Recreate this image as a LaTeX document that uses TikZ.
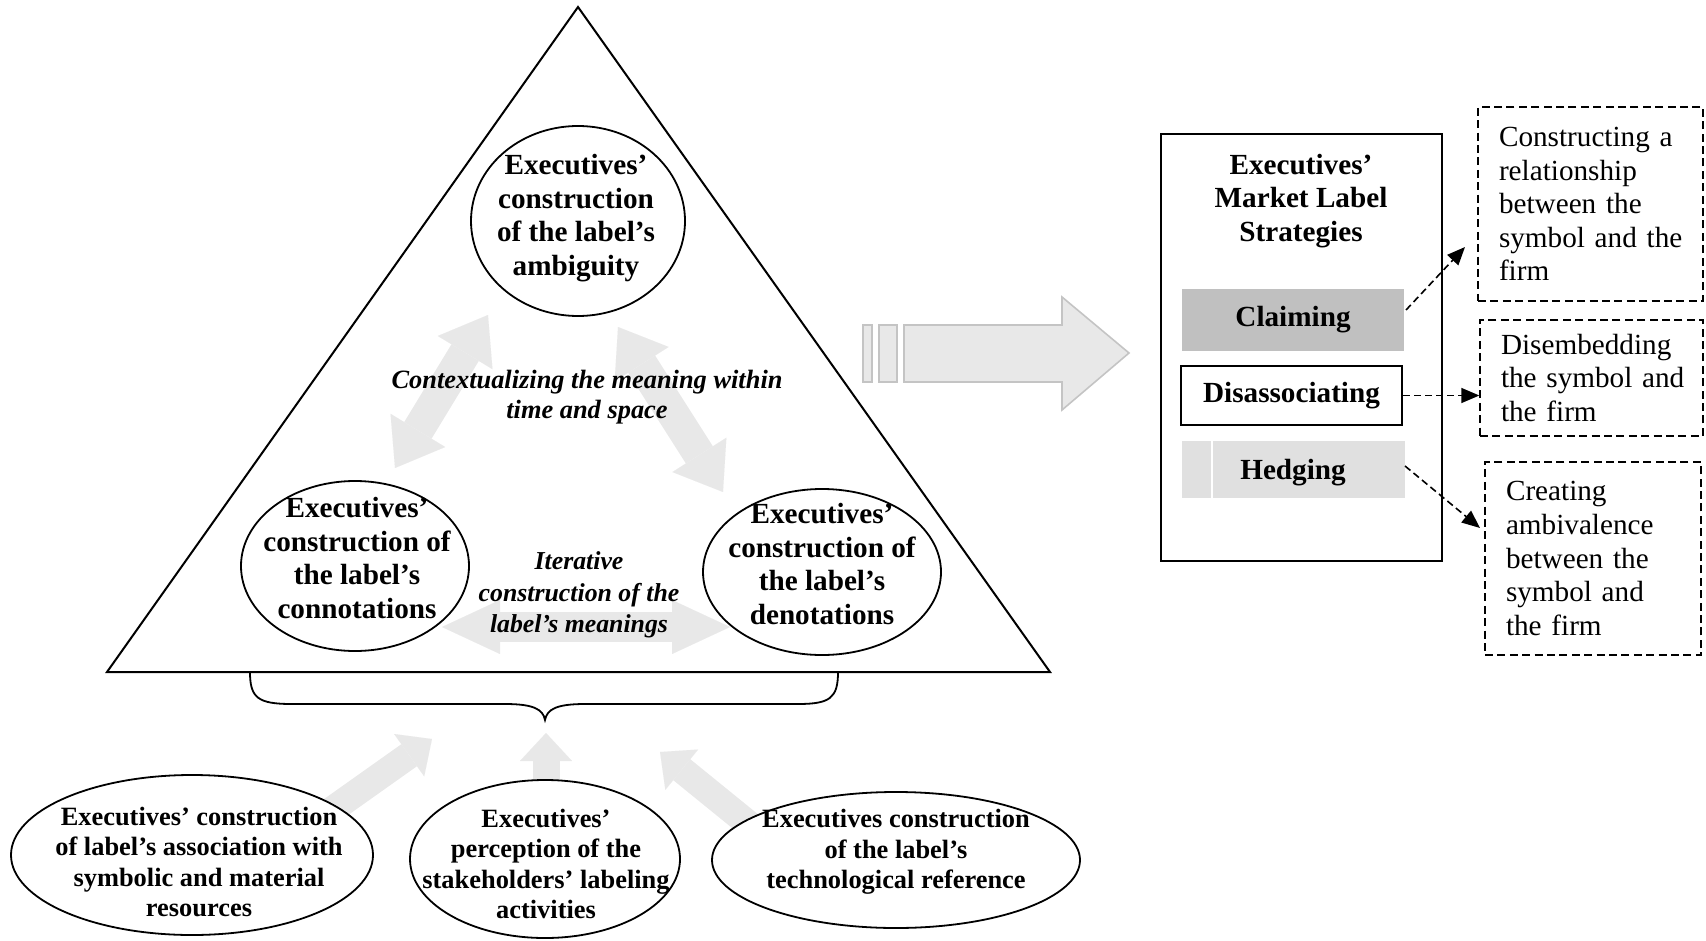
\documentclass[tikz,border=0pt]{standalone}
\usepackage{fontspec}
\setmainfont{Liberation Serif}
\usetikzlibrary{shapes.geometric,arrows.meta}
\definecolor{arrowgray}{RGB}{232,232,232}
\definecolor{claimgray}{RGB}{192,192,192}
\definecolor{hedgegray}{RGB}{224,224,224}
\definecolor{edgegray}{RGB}{196,196,196}
\tikzset{
  ell/.style={ellipse, draw, line width=0.9pt, fill=white, inner sep=0pt},
  btxt/.style={font=\fontsize{14.6}{16.8}\selectfont\bfseries, align=center, inner sep=0pt},
  bottxt/.style={font=\fontsize{13.2}{15.2}\selectfont\bfseries, align=center, inner sep=0pt},
  itxt/.style={font=\fontsize{13.2}{15.2}\selectfont\bfseries\itshape, align=center, inner sep=0pt},
  rtxt/.style={draw, dash pattern=on 4pt off 2.2pt, line width=0.7pt,
    font=\fontsize{14.6}{16.8}\selectfont, align=left, inner xsep=10.5pt, inner ysep=0pt},
  fatdbl/.style={draw=arrowgray, line width=16pt,
    {Triangle[length=22pt,width=32pt,line width=0.01pt]}-{Triangle[length=22pt,width=32pt,line width=0.01pt]}},
  fathor/.style={draw=arrowgray, line width=15pt,
    {Triangle[length=29pt,width=27pt,line width=0.01pt]}-{Triangle[length=29pt,width=27pt,line width=0.01pt]}},
  fatone/.style={draw=arrowgray, line width=13.5pt,
    -{Triangle[length=14pt,width=26pt,line width=0.01pt]}},
  dasharrow/.style={draw, dash pattern=on 3.5pt off 2pt, line width=0.8pt,
    -{Triangle[length=9pt,width=7.5pt]}},
  stratbox/.style={font=\fontsize{14.6}{16.8}\selectfont\bfseries, inner sep=0pt}
}
\begin{document}
\begin{tikzpicture}[x=0.5pt,y=-0.5pt]
\useasboundingbox (0,0) rectangle (1706,941);

% triangle
\draw[line width=1pt] (578,7) -- (1050,672) -- (107,672) -- cycle;

% gray connectors inside triangle
\coordinate (c1a) at (488,315);
\coordinate (c1b) at (395,468);
\coordinate (c2a) at (618,327);
\coordinate (c2b) at (723,492);
\coordinate (c3a) at (442,627);
\coordinate (c3b) at (730,627);
\draw[fatdbl] (c1a) -- (c1b);
\draw[fatdbl] (c2a) -- (c2b);
\draw[fathor] (c3a) -- (c3b);

% bottom gray arrows
\coordinate (b1t) at (315,822);
\coordinate (b1h) at (432,739);
\coordinate (b2t) at (546,800);
\coordinate (b2h) at (546,733);
\coordinate (b3t) at (772,843);
\coordinate (b3h) at (660,752);
\draw[fatone] (b1t) -- (b1h);
\draw[fatone] (b2t) -- (b2h);
\draw[fatone] (b3t) -- (b3h);

% ellipses in triangle
\node[ell, minimum width=107pt, minimum height=95pt] (amb) at (578,221) {};
\node[btxt] (ambt) at (576,218) {Executives’\\construction\\of the label’s\\ambiguity};
\node[ell, minimum width=114pt, minimum height=85pt] (con) at (355,566) {};
\node[btxt] (cont) at (357,558) {Executives’\\construction of\\the label’s\\connotations};
\node[ell, minimum width=119pt, minimum height=83pt] (den) at (822,572) {};
\node[btxt] (dent) at (822,564) {Executives’\\construction of\\the label’s\\denotations};

\node[itxt] (ctx) at (587,397) {Contextualizing the meaning within\\time and space};
\node[itxt, font=\fontsize{12.9}{15.8}\selectfont\bfseries\itshape] (itr) at (579,595) {Iterative\\construction of the\\label’s meanings};

% brace
\draw[line width=0.9pt] (250,672) .. controls (250,698) and (258,704) .. (292,704)
  -- (505,704) .. controls (533,704) and (543,709) .. (545,720)
  .. controls (547,709) and (557,704) .. (585,704)
  -- (798,704) .. controls (830,704) and (838,698) .. (838,672);

% bottom ellipses
\node[ell, minimum width=181pt, minimum height=80pt] (sym) at (192,855) {};
\node[bottxt] (symt) at (199,862) {Executives’ construction\\of label’s association with\\symbolic and material\\resources};
\node[ell, minimum width=135pt, minimum height=79pt] (per) at (545,859) {};
\node[bottxt] (pert) at (546,864) {Executives’\\perception of the\\stakeholders’ labeling\\activities};
\node[ell, minimum width=184pt, minimum height=68pt] (tec) at (896,860) {};
\node[bottxt] (tect) at (896,852) {Executives construction\\of the label’s\\technological reference};

% big block arrow
\draw[fill=arrowgray, draw=edgegray, line width=0.8pt] (863,325) rectangle (872,382);
\draw[fill=arrowgray, draw=edgegray, line width=0.8pt] (879,325) rectangle (897,382);
\draw[fill=arrowgray, draw=edgegray, line width=0.8pt]
  (904,325) -- (1062,325) -- (1062,297) -- (1129,353) -- (1062,410) -- (1062,382) -- (904,382) -- cycle;

% strategies frame
\node[draw, line width=1pt, minimum width=140.5pt, minimum height=213pt, inner sep=0pt] (frame) at (1301.5,347.5) {};
\node[btxt] (title) at (1301,201) {Executives’\\Market Label\\Strategies};
\node[stratbox, fill=claimgray, minimum width=111pt, minimum height=31pt] (claim) at (1293,320) {Claiming};
\node[stratbox, draw, line width=1pt, minimum width=110.5pt, minimum height=29.5pt] (dis) at (1291.5,395.5) {Disassociating};
\node[stratbox, fill=hedgegray, minimum width=111.5pt, minimum height=28.5pt] (hed) at (1293.5,469.5) {};
\draw[white, line width=1pt] (1212,441) -- (1212,498);
\node[stratbox] (hedt) at (1293,473) {Hedging};

% dashed outcome boxes
\node[rtxt, text width=91.5pt, minimum height=97pt] (o1) at (1590.5,204) {\mbox{Constructing a}\\\mbox{relationship}\\\mbox{between the}\\\mbox{symbol and the}\\\mbox{firm}};
\node[rtxt, text width=90.5pt, minimum height=58pt] (o2) at (1591.5,378) {\mbox{Disembedding}\\\mbox{the symbol and}\\\mbox{the firm}};
\node[rtxt, text width=87pt, minimum height=96.5pt] (o3) at (1593,558.5) {\mbox{Creating}\\\mbox{ambivalence}\\\mbox{between the}\\\mbox{symbol and}\\\mbox{the firm}};

% dashed arrows
\coordinate (d1s) at (1406,310);
\coordinate (d1e) at (1465,247);
\coordinate (d3s) at (1405,466);
\coordinate (d3e) at (1480,528);
\draw[dasharrow] (d1s) -- (d1e);
\draw[dasharrow] (dis.east) -- (dis.east -| o2.west);
\draw[dasharrow] (d3s) -- (d3e);
\end{tikzpicture}
\end{document}
